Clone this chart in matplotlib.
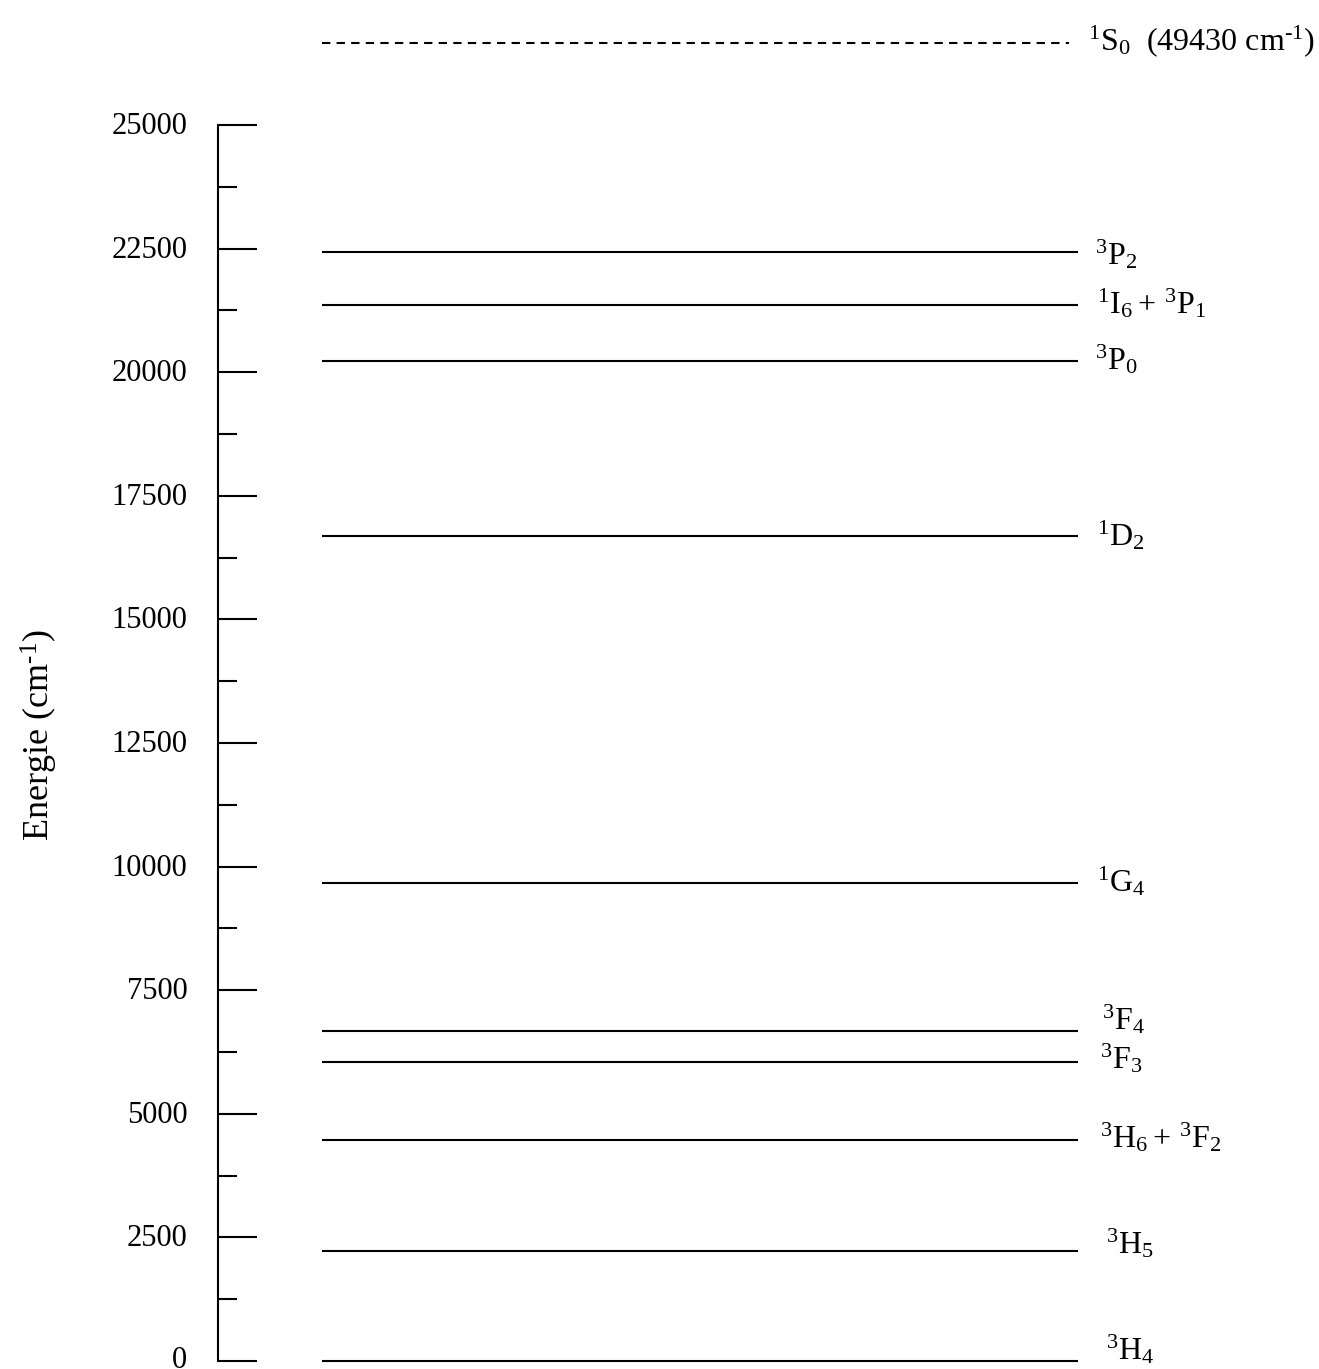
import matplotlib
matplotlib.use("Agg")
import matplotlib.pyplot as plt
from matplotlib.ticker import FixedLocator
from matplotlib.transforms import ScaledTranslation

plt.rcParams['font.family'] = ['Liberation Serif', 'DejaVu Serif']
plt.rcParams['mathtext.fontset'] = 'custom'
plt.rcParams['mathtext.rm'] = 'Liberation Serif'
plt.rcParams['mathtext.it'] = 'Liberation Serif'
plt.rcParams['mathtext.default'] = 'regular'

# Energy levels (cm^-1)
level_names = [r'$^{3}$H$_{4}$', r'$^{3}$H$_{5}$', r'$^{3}$H$_{6}+\,^{3}$F$_{2}$',
               r'$^{3}$F$_{3}$', r'$^{3}$F$_{4}$', r'$^{1}$G$_{4}$', r'$^{1}$D$_{2}$',
               r'$^{3}$P$_{0}$', r'$^{1}$I$_{6}+\,^{3}$P$_{1}$', r'$^{3}$P$_{2}$']
level_energies = [0, 2225, 4470, 6050, 6675, 9670, 16690, 20230, 21360, 22430]
# vertical label offsets (points)
label_dy = [8, 5, 2, 2, 8, 1, 0, 1, 1, -2]
label_dx = [20, 20, 16, 16, 17, 14, 14, 12, 14, 12]

s0_name = r'$^{1}$S$_{0}$  (49430 cm$^{\text{-}1}$)'
s0_energy = 49430
s0_display = 26660  # position above the broken axis

yticks = [0, 2500, 5000, 7500, 10000, 12500, 15000, 17500, 20000, 22500, 25000]
yminor = [1250, 3750, 6250, 8750, 11250, 13750, 16250, 18750, 21250, 23750]

W, H = 1319, 1369
fig = plt.figure(figsize=(W/100, H/100), dpi=100)
px = 0.04944
ax = fig.add_axes([218/W, 8/H, (1078-218)/W, 1361/H])
ax.set_xlim(0, 1)
ax.set_ylim(0, 1361/px)

x0 = (322-218)/(1078-218)
for name, e, dy, dx in zip(level_names, level_energies, label_dy, label_dx):
    ax.plot([x0, 1.0], [e, e], color='black', lw=1.5, solid_capstyle='butt',
            clip_on=False)
    ax.annotate(name, xy=(1.0, e), xytext=(dx, dy), textcoords='offset points',
                ha='left', va='center', fontsize=23, annotation_clip=False)

ax.plot([x0, 0.99], [s0_display, s0_display], color='black', lw=1.5,
        ls=(0, (4, 3)), clip_on=False)
ax.annotate(s0_name, xy=(1.0, s0_display), xytext=(7, 1), textcoords='offset points',
            ha='left', va='center', fontsize=23, annotation_clip=False)

for sp in ['top', 'right', 'bottom']:
    ax.spines[sp].set_visible(False)
ax.spines['left'].set_bounds(0, 25000)
ax.spines['left'].set_linewidth(1.5)
ax.set_xticks([])
ax.yaxis.set_major_locator(FixedLocator(yticks))
ax.set_yticklabels([str(t) for t in yticks])
ax.yaxis.set_minor_locator(FixedLocator(yminor))
ax.tick_params(axis='y', which='major', direction='in', length=28, width=1.5,
               pad=22, labelsize=22)
ax.tick_params(axis='y', which='minor', direction='in', length=14, width=1.5)
shift = ScaledTranslation(0, 2/100, fig.dpi_scale_trans)
shift0 = ScaledTranslation(0, 4/100, fig.dpi_scale_trans)
for i, lab in enumerate(ax.get_yticklabels()):
    lab.set_va('center_baseline')
    lab.set_transform(lab.get_transform() + (shift0 if i == 0 else shift))
ax.set_ylabel(r'Energie (cm$^{\text{-}1}$)', fontsize=26)
ax.yaxis.set_label_coords(-(218-60)/(1078-218), (1361-735)/1361)
ax.patch.set_visible(False)

fig.savefig('out.png', dpi=100)
